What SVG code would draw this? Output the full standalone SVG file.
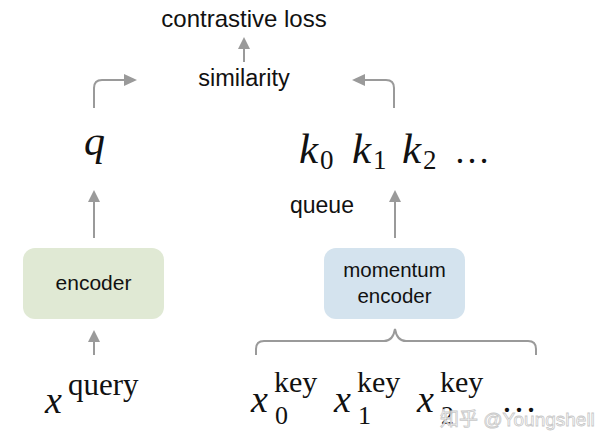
<svg xmlns="http://www.w3.org/2000/svg" width="600" height="448" viewBox="0 0 600 448">
<defs>
<style>
.sans{font-family:"Liberation Sans",Arial,sans-serif;fill:#111}
.math{font-family:"Liberation Serif","Times New Roman",serif;fill:#111}
.it{font-style:italic}
.ln{fill:none;stroke:#9a9a9a;stroke-width:2}
.hd{fill:#9a9a9a}
</style>
</defs>
<rect width="600" height="448" fill="#fff"/>
<g id="connectors">
<path class="ln" d="M244,62 L244,46"/>
<path class="hd" d="M238,49 L244,37 L250,49 z"/>
<path class="ln" d="M94,108 L94,88 Q94,80 102,80 L126,80"/>
<path class="hd" d="M124,74 L137,80 L124,86 z"/>
<path class="ln" d="M394,108 L394,88 Q394,80 386,80 L363,80"/>
<path class="hd" d="M365,74 L352,80 L365,86 z"/>
<path class="ln" d="M94,238 L94,200"/>
<path class="hd" d="M88,202 L94,190 L100,202 z"/>
<path class="ln" d="M395,238 L395,200"/>
<path class="hd" d="M389,202 L395,190 L401,202 z"/>
<path class="ln" d="M94,355 L94,340"/>
<path class="hd" d="M88,342 L94,330 L100,342 z"/>
<path class="ln" d="M256,355 L256,349 Q256,341 264,341 L384,341 Q393,341 395,329 Q397,341 406,341 L528,341 Q536,341 536,349 L536,355"/>
</g>
<g id="contrastive-loss"><text class="sans" x="244" y="27" font-size="24" text-anchor="middle">contrastive loss</text></g>
<g id="similarity"><text class="sans" x="244" y="86" font-size="23.5" text-anchor="middle">similarity</text></g>
<g id="q"><text class="math it" x="84" y="155" font-size="42">q</text></g>
<g id="keys">
<text class="math it" x="299" y="163" font-size="43">k</text>
<text class="math" x="320" y="169" font-size="27">0</text>
<text class="math it" x="352" y="163" font-size="43">k</text>
<text class="math" x="373" y="169" font-size="27">1</text>
<text class="math it" x="402" y="163" font-size="43">k</text>
<text class="math" x="423" y="169" font-size="27">2</text>
<text class="math" x="454" y="163" font-size="36">…</text>
</g>
<g id="queue"><text class="sans" x="290" y="213" font-size="23">queue</text></g>
<g id="encoder">
<rect x="23" y="248" width="141" height="71" rx="12" fill="#e0e9d4"/>
<text class="sans" x="93.5" y="290" font-size="21" text-anchor="middle">encoder</text>
</g>
<g id="momentum-encoder">
<rect x="324" y="248" width="141" height="71" rx="12" fill="#d4e3ee"/>
<text class="sans" x="394.5" y="277" font-size="20.5" text-anchor="middle">momentum</text>
<text class="sans" x="394.5" y="303" font-size="20.5" text-anchor="middle">encoder</text>
</g>
<g id="x-query">
<text class="math it" x="45" y="413" font-size="38">x</text>
<text class="math" x="68" y="395" font-size="31">query</text>
</g>
<g id="x-keys">
<text class="math it" x="251" y="412" font-size="38">x</text>
<text class="math" x="274" y="392" font-size="30">key</text>
<text class="math" x="275" y="424" font-size="26">0</text>
<text class="math it" x="334" y="412" font-size="38">x</text>
<text class="math" x="357" y="392" font-size="30">key</text>
<text class="math" x="358" y="424" font-size="26">1</text>
<text class="math it" x="417" y="412" font-size="38">x</text>
<text class="math" x="440" y="392" font-size="30">key</text>
<text class="math" x="441" y="424" font-size="26">2</text>
<text class="math" x="501" y="412" font-size="36">…</text>
</g>
<g id="watermark"><text x="440" y="426" font-size="19" fill="#ffffff" fill-opacity="0.85" stroke="#c8c8c8" stroke-width="0.8" font-family="'Liberation Sans','Noto Sans CJK SC',sans-serif">知乎 @Youngshell</text></g>
</svg>
